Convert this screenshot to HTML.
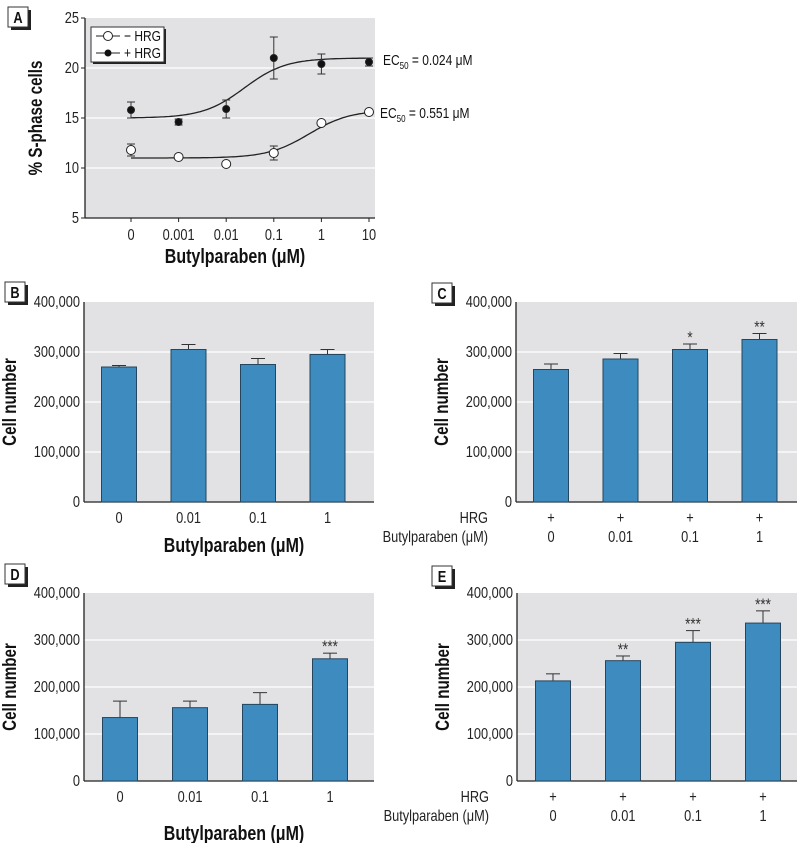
<!DOCTYPE html>
<html><head><meta charset="utf-8"><style>
html,body{margin:0;padding:0;background:#fff;}
svg{display:block;font-family:"Liberation Sans Narrow","Liberation Sans",sans-serif;}
</style></head><body>
<svg id="fig" width="800" height="843" viewBox="0 0 800 843" xmlns="http://www.w3.org/2000/svg"></svg>
<script>
// ---------- Panel A data ----------
const aCats = ["0","0.001","0.01","0.1","1","10"];
const aYTicks = [5,10,15,20,25];
const aMinus = [11.8,11.1,10.4,11.5,14.5,15.6];
const aMinusErr = [0.6,0,0,0.7,0,0];
const aPlus = [15.8,14.6,15.9,21.0,20.4,20.6];
const aPlusErr = [0.8,0.3,0.9,2.1,1.0,0.4];
const aMinusFit = [11.0,15.8,-0.26]; // bottom, top, logEC50
const aPlusFit = [15.0,21.0,-1.62];
// ---------- Bar panels data ----------
const barCats = ["0","0.01","0.1","1"];
const barYTicks = [0,100000,200000,300000,400000];
const bVals = [270000,305000,275000,295000];
const bErr = [3000,10000,12000,10000];
const cVals = [265000,286000,305000,325000];
const cErr = [11000,11000,11000,12000];
const cStars = ["","","*","**"];
const dVals = [135000,156000,163000,260000];
const dErr = [35000,14000,25000,12000];
const dStars = ["","","","***"];
const eVals = [213000,256000,295000,336000];
const eErr = [15000,10000,25000,26000];
const eStars = ["","**","***","***"];

const NS="http://www.w3.org/2000/svg";
const svg=document.getElementById('fig');
const SX=0.8;
function mk(tag,attrs,parent,text){const e=document.createElementNS(NS,tag);for(const k in attrs)e.setAttribute(k,attrs[k]);if(text!==undefined&&text!==null)e.textContent=text;(parent||svg).appendChild(e);return e;}
function txt(parent,x,y,str,attrs,rot){
  const a=Object.assign({x:0,y:0,transform:`translate(${x},${y})`+(rot?` rotate(${rot})`:'')+` scale(${SX},1)`},attrs||{});
  return mk('text',a,parent,str);
}
function fmt(v){return v.toLocaleString('en-US');}

function panelLabel(letter,x,y){
  const g=mk('g',{});
  
  
  mk('rect',{x:x+3,y:y+3,width:20,height:20,fill:'#222'},g);
  mk('rect',{x:x,y:y,width:20,height:20,fill:'#fff',stroke:'#333','stroke-width':1},g);
  txt(g,x+10,y+16,letter,{'text-anchor':'middle','font-size':16,'font-weight':'bold',fill:'#111'});
}

// ---------- Panel A ----------
(function(){
  const L=85,R=375,T=18,B=218;
  const xs=i=>131+i*47.6;
  const ys=v=>T+(25-v)/20*(B-T);
  const g=mk('g',{});
  panelLabel('A',8,7);
  const bg=mk('rect',{x:L,y:T,width:R-L,height:B-T,fill:'#e2e2e4'},g);
  
  aYTicks.forEach(t=>{
    if(t>5&&t<25) mk('line',{x1:L,x2:R,y1:ys(t),y2:ys(t),stroke:'#fff','stroke-width':1.2},g);
    mk('line',{x1:L-4,x2:L,y1:ys(t),y2:ys(t),stroke:'#222'},g);
    const tx=txt(g,L-6,ys(t)+5,String(t),{'text-anchor':'end','font-size':16,fill:'#222'});
    
  });
  mk('line',{x1:L,x2:L,y1:T,y2:B,stroke:'#222','stroke-width':1.3},g);
  mk('line',{x1:L,x2:R,y1:B,y2:B,stroke:'#222','stroke-width':1.3},g);
  aCats.forEach((c,i)=>{
    mk('line',{x1:xs(i),x2:xs(i),y1:B,y2:B+4,stroke:'#222'},g);
    const tx=txt(g,xs(i),B+22,c,{'text-anchor':'middle','font-size':16,fill:'#222'});
    
  });
  const yt=txt(g,42,(T+B)/2,'% S-phase cells',{'text-anchor':'middle','font-size':19,'font-weight':'bold',fill:'#111'},-90);
  
  const xt=txt(g,(L+R)/2+5,263,'Butylparaben (μM)',{'text-anchor':'middle','font-size':20,'font-weight':'bold',fill:'#111'});
  
  function fit(p){let d='';for(let k=0;k<=100;k++){const u=k/100*5;const lx=u-4;const v=p[0]+(p[1]-p[0])/(1+Math.pow(10,p[2]-lx));d+=(k?'L':'M')+xs(u).toFixed(1)+','+ys(v).toFixed(1);}return d;}
  const f1=mk('path',{d:fit(aPlusFit),fill:'none',stroke:'#222','stroke-width':1.3},g);
  
  const f2=mk('path',{d:fit(aMinusFit),fill:'none',stroke:'#222','stroke-width':1.3},g);
  
  function series(vals,errs,filled,name){
    vals.forEach((v,i)=>{
      if(errs[i]>0){
        mk('line',{x1:xs(i),x2:xs(i),y1:ys(v+errs[i]),y2:ys(v-errs[i]),stroke:'#333'},g);
        mk('line',{x1:xs(i)-4,x2:xs(i)+4,y1:ys(v+errs[i]),y2:ys(v+errs[i]),stroke:'#333'},g);
        mk('line',{x1:xs(i)-4,x2:xs(i)+4,y1:ys(v-errs[i]),y2:ys(v-errs[i]),stroke:'#333'},g);
      }
      const c=mk('circle',{cx:xs(i),cy:ys(v),r:filled?3.5:4.5,fill:filled?'#111':'#fff',stroke:'#222','stroke-width':1},g);
      
    });
  }
  series(aMinus,aMinusErr,false,'point-minus-hrg');
  series(aPlus,aPlusErr,true,'point-plus-hrg');
  const lg=mk('g',{},g);
  mk('rect',{x:93,y:29,width:73,height:35,fill:'#222'},lg);
  mk('rect',{x:91,y:27,width:73,height:35,fill:'#fff',stroke:'#333'},lg);
  mk('line',{x1:96,x2:120,y1:36,y2:36,stroke:'#222'},lg);
  mk('circle',{cx:108,cy:36,r:4.5,fill:'#fff',stroke:'#222'},lg);
  txt(lg,124,41,'− HRG',{'font-size':15,fill:'#111'});
  mk('line',{x1:96,x2:120,y1:53,y2:53,stroke:'#222'},lg);
  mk('circle',{cx:108,cy:53,r:3.5,fill:'#111'},lg);
  txt(lg,124,58,'+ HRG',{'font-size':15,fill:'#111'});
  const e1=txt(g,383,65,null,{'font-size':15,fill:'#111'});
  
  e1.innerHTML='EC<tspan font-size="10" dy="4">50</tspan><tspan dy="-4"> = 0.024 μM</tspan>';
  const e2=txt(g,380,118,null,{'font-size':15,fill:'#111'});
  
  e2.innerHTML='EC<tspan font-size="10" dy="4">50</tspan><tspan dy="-4"> = 0.551 μM</tspan>';
})();

// ---------- Bar panels ----------
function barPanel(o){
  const {letter,L,R,T,B,x0,dx,vals,errs,stars,hrg,lab}=o;
  const g=mk('g',{});
  panelLabel(letter,lab[0],lab[1]);
  const ys=v=>B-v/400000*(B-T);
  const xs=i=>x0+i*dx;
  const bg=mk('rect',{x:L,y:T,width:R-L,height:B-T,fill:'#e2e2e4'},g);
  
  barYTicks.forEach(t=>{
    if(t>0&&t<400000) mk('line',{x1:L,x2:R,y1:ys(t),y2:ys(t),stroke:'#fff','stroke-width':1.2},g);
    const tx=txt(g,L-4,ys(t)+5,fmt(t),{'text-anchor':'end','font-size':16,fill:'#222'});
    
  });
  mk('line',{x1:L,x2:L,y1:T,y2:B,stroke:'#222','stroke-width':1.3},g);
  mk('line',{x1:L,x2:R,y1:B,y2:B,stroke:'#222','stroke-width':1.3},g);
  const yt=txt(g,L-68,(T+B)/2,'Cell number',{'text-anchor':'middle','font-size':19,'font-weight':'bold',fill:'#111'},-90);
  
  const w=35;
  vals.forEach((v,i)=>{
    const x=xs(i);
    const e=v+errs[i];
    mk('line',{x1:x,x2:x,y1:ys(e),y2:ys(v),stroke:'#333'},g);
    mk('line',{x1:x-7,x2:x+7,y1:ys(e),y2:ys(e),stroke:'#333'},g);
    const r=mk('rect',{x:x-w/2,y:ys(v),width:w,height:B-ys(v),fill:'#3d8bbf',stroke:'#24465e','stroke-width':1},g);
    
    if(stars&&stars[i]){const s=txt(g,x,ys(e)-1,stars[i],{'text-anchor':'middle','font-size':17,fill:'#333'});
      }
    if(hrg){
      const h=txt(g,x,B+21,'+',{'text-anchor':'middle','font-size':16,fill:'#222'});
      
      const c=txt(g,x,B+40,barCats[i],{'text-anchor':'middle','font-size':16,fill:'#222'});
      
    } else {
      const c=txt(g,x,B+21,barCats[i],{'text-anchor':'middle','font-size':16,fill:'#222'});
      
    }
  });
  if(hrg){
    const a=txt(g,L-28,B+21,'HRG',{'text-anchor':'end','font-size':16,fill:'#222'});
    
    const b=txt(g,L-28,B+40,'Butylparaben (μM)',{'text-anchor':'end','font-size':16,fill:'#222'});
    
  } else {
    const xt=txt(g,(L+R)/2+5,o.titleY,'Butylparaben (μM)',{'text-anchor':'middle','font-size':20,'font-weight':'bold',fill:'#111'});
    
  }
}
barPanel({letter:'B',L:84,R:374,T:302,B:502,x0:119,dx:69.5,vals:bVals,errs:bErr,stars:null,hrg:false,lab:[5,282],titleY:552});
barPanel({letter:'C',L:516,R:797,T:302,B:502,x0:551,dx:69.5,vals:cVals,errs:cErr,stars:cStars,hrg:true,lab:[432,283]});
barPanel({letter:'D',L:84,R:374,T:593,B:781,x0:120,dx:70,vals:dVals,errs:dErr,stars:dStars,hrg:false,lab:[5,564],titleY:840});
barPanel({letter:'E',L:517,R:797,T:593,B:781,x0:553,dx:70,vals:eVals,errs:eErr,stars:eStars,hrg:true,lab:[432,566]});
</script>
</body></html>
